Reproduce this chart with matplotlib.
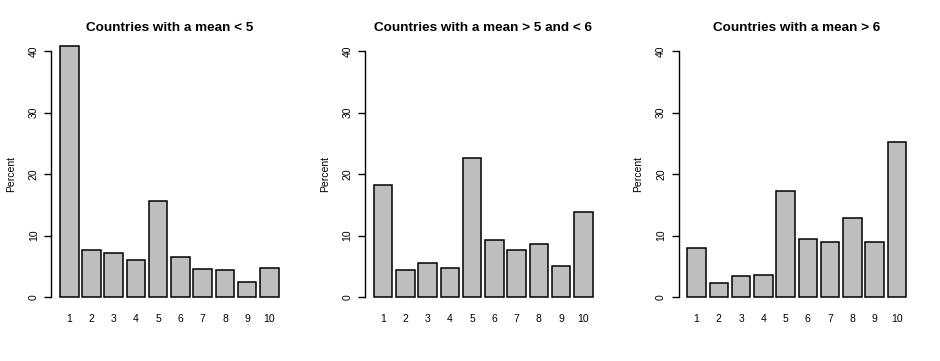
import numpy as np
import matplotlib.pyplot as plt

plt.rcParams['font.family'] = ['Liberation Sans', 'DejaVu Sans']

categories = [str(i) for i in range(1, 11)]
low_mean = [40.9, 7.6, 7.1, 6.1, 15.7, 6.5, 4.5, 4.4, 2.4, 4.7]
mid_mean = [18.2, 4.4, 5.6, 4.7, 22.6, 9.2, 7.6, 8.6, 5.0, 13.8]
high_mean = [7.9, 2.2, 3.4, 3.5, 17.2, 9.4, 8.9, 12.8, 8.9, 25.2]
titles = ['Countries with a mean < 5',
          'Countries with a mean > 5 and < 6',
          'Countries with a mean > 6']
series = [low_mean, mid_mean, high_mean]

W, H = 940, 361
fig = plt.figure(figsize=(W / 100, H / 100), dpi=100)

# R barplot style: width 1, space 0.2, 4% axis extension
centers = 0.7 + 1.2 * np.arange(len(categories))
xlo, xhi = 0.2, centers[-1] + 0.5
xpad = 0.04 * (xhi - xlo)
ylo, yhi = 0, 40
ypad = 0.04 * (yhi - ylo)

panel_left = [51.25, 365.2, 678.6]
ax_w = 236.2
ax_bottom_px = 306.8
ax_top_px = 41.5

for left, vals, title in zip(panel_left, series, titles):
    ax = fig.add_axes([left / W, (H - ax_bottom_px) / H, ax_w / W,
                       (ax_bottom_px - ax_top_px) / H])
    ax.bar(centers, vals, width=1.0, color='#bebebe', edgecolor='black',
           linewidth=1.1, clip_on=False)
    ax.set_xlim(xlo - xpad, xhi + xpad)
    ax.set_ylim(ylo - ypad, yhi + ypad)
    for s in ['top', 'right', 'bottom']:
        ax.spines[s].set_visible(False)
    ax.spines['left'].set_bounds(0, 40)
    ax.spines['left'].set_linewidth(1.0)
    ax.set_yticks([0, 10, 20, 30, 40])
    ax.set_yticklabels(['0', '10', '20', '30', '40'], rotation=90,
                       va='center', fontsize=7.5)
    ax.tick_params(axis='y', length=5, width=1.0, pad=4)
    ax.set_xticks(centers)
    ax.set_xticklabels(categories, fontsize=7.5)
    ax.tick_params(axis='x', length=0, pad=5)
    ax.set_ylabel('Percent', fontsize=7.5, labelpad=9)
    ax.set_title(title, fontsize=9.7, fontweight='bold', pad=7.5)
    ax.patch.set_visible(False)

fig.savefig('out.png', dpi=100)
